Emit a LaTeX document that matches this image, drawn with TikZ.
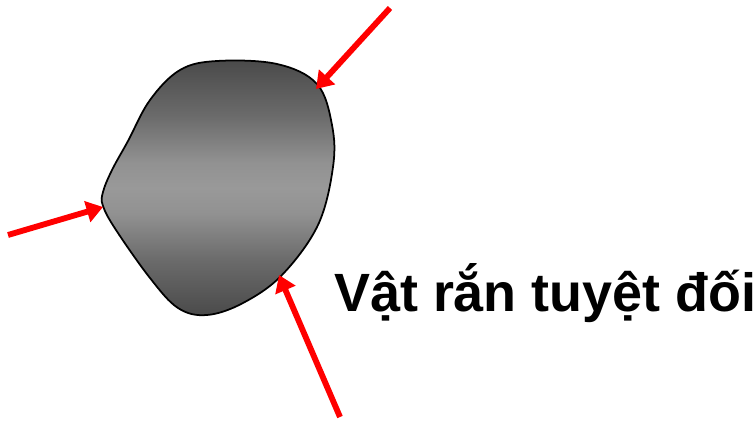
\documentclass[tikz,border=0pt]{standalone}
\usepackage{fontspec}
\setmainfont{Liberation Sans}
\usetikzlibrary{arrows.meta}
\pgfdeclareverticalshading{blobshade}{100bp}{
  color(0bp)=(black!71); color(25bp)=(black!71); color(36bp)=(black!58);
  color(45bp)=(black!43); color(50bp)=(black!40); color(55bp)=(black!43);
  color(64bp)=(black!58); color(75bp)=(black!71); color(100bp)=(black!71)}
\begin{document}
\begin{tikzpicture}[x=0.03cm,y=-0.03cm,
  force/.style={draw=red,line width=5pt,-{Triangle[length=14pt,width=18pt]}},
  label/.style={font=\bfseries\fontsize{46}{52}\selectfont,anchor=base west,inner sep=0pt}]
\useasboundingbox (0,0) rectangle (755,423);
\shade[shading=blobshade,draw=black,line width=1.5pt]
  plot[smooth cycle,tension=0.6] coordinates {(103,192) (112,170) (128,141) (150,100) (180,70) (217,61) (277,64) (317,84) (332,125) (333,167) (318,225) (282,275) (243,303) (207,315) (178,308) (150,278) (116,230) (103,206)};
\coordinate (t1) at (316,89);
\coordinate (s1) at (390,8);
\coordinate (t2) at (103,207);
\coordinate (s2) at (8,235);
\coordinate (t3) at (279,275);
\coordinate (s3) at (340,417);
\draw[force] (s1) -- (t1);
\draw[force] (s2) -- (t2);
\draw[force] (s3) -- (t3);
\node[label] (lbl) at (334,311) {Vật rắn tuyệt đối};
\end{tikzpicture}
\end{document}
